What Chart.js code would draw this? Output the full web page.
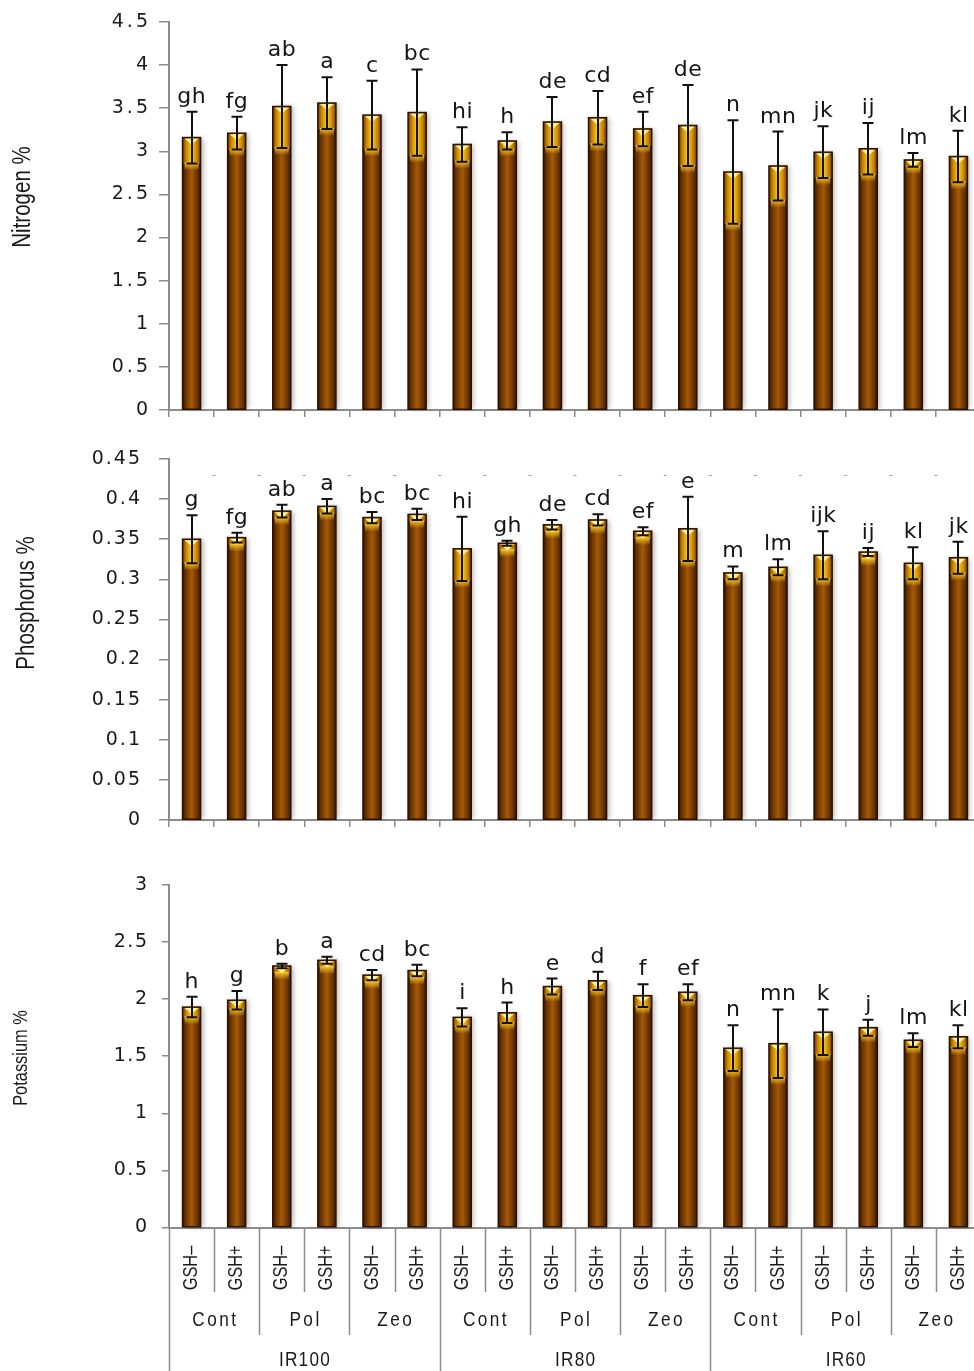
<!DOCTYPE html>
<html>
<head>
<meta charset="utf-8">
<title>Nitrogen, phosphorus and potassium content</title>
<script src="https://cdn.jsdelivr.net/npm/chart.js@4.4.1/dist/chart.umd.min.js"></script>
<style>
  html, body { margin: 0; padding: 0; background: #ffffff; width: 974px; height: 1371px; overflow: hidden; }
  canvas.panel { position: absolute; left: 0; }
</style>
</head>
<body>
<canvas id="panelN" class="panel" width="1000" height="430" style="top:0px"></canvas>
<canvas id="panelP" class="panel" width="1000" height="430" style="top:430px"></canvas>
<canvas id="panelK" class="panel" width="1000" height="511" style="top:860px"></canvas>
<script>
// ---- factor levels ----
const irrigation = ['IR100', 'IR80', 'IR60'];
const amendments = ['Cont', 'Pol', 'Zeo'];
const gshLevels = ['GSH\u2013', 'GSH+'];

// ---- nitrogen (%) ----
const nitrogen      = [3.16, 3.21, 3.52, 3.56, 3.42, 3.45, 3.08, 3.12, 3.34, 3.39, 3.26, 3.30, 2.76, 2.83, 2.99, 3.03, 2.90, 2.94];
const nitrogenErr   = [0.30, 0.19, 0.48, 0.30, 0.40, 0.50, 0.20, 0.10, 0.29, 0.31, 0.20, 0.47, 0.60, 0.40, 0.30, 0.30, 0.08, 0.30];
const nitrogenGroup = ['gh', 'fg', 'ab', 'a', 'c', 'bc', 'hi', 'h', 'de', 'cd', 'ef', 'de', 'n', 'mn', 'jk', 'ij', 'lm', 'kl'];
const nitrogenTicks = { max: 4.5, step: 0.5 };

// ---- phosphorus (%) ----
const phosphorus      = [0.350, 0.352, 0.385, 0.391, 0.377, 0.381, 0.338, 0.345, 0.368, 0.374, 0.360, 0.363, 0.308, 0.315, 0.330, 0.334, 0.320, 0.327];
const phosphorusErr   = [0.030, 0.006, 0.008, 0.009, 0.007, 0.007, 0.040, 0.003, 0.006, 0.007, 0.005, 0.040, 0.008, 0.010, 0.030, 0.005, 0.020, 0.020];
const phosphorusGroup = ['g', 'fg', 'ab', 'a', 'bc', 'bc', 'hi', 'gh', 'de', 'cd', 'ef', 'e', 'm', 'lm', 'ijk', 'ij', 'kl', 'jk'];
const phosphorusTicks = { max: 0.45, step: 0.05 };

// ---- potassium (%) ----
const potassium      = [1.93, 1.99, 2.29, 2.34, 2.21, 2.25, 1.84, 1.88, 2.11, 2.16, 2.03, 2.06, 1.57, 1.61, 1.71, 1.75, 1.64, 1.67];
const potassiumErr   = [0.09, 0.08, 0.02, 0.03, 0.045, 0.05, 0.08, 0.09, 0.07, 0.08, 0.10, 0.07, 0.20, 0.30, 0.20, 0.07, 0.06, 0.10];
const potassiumGroup = ['h', 'g', 'b', 'a', 'cd', 'bc', 'i', 'h', 'e', 'd', 'f', 'ef', 'n', 'mn', 'k', 'j', 'lm', 'kl'];
const potassiumTicks = { max: 3, step: 0.5 };

// one category per irrigation x amendment x GSH combination
const categoryLabels = [];
irrigation.forEach(ir => amendments.forEach(am => gshLevels.forEach(g => categoryLabels.push(ir + ' ' + am + ' ' + g))));

const SANS = "'Liberation Sans', 'DejaVu Sans', sans-serif";
const CONDENSE = 0.82;          // horizontal squeeze giving a condensed look
const AXIS_GREY = '#8c8c8c';

const BROWN = [[0, '#3a1801'], [0.18, '#6a3300'], [0.5, '#a55a07'], [0.82, '#6a3300'], [1, '#3a1801']];
const GOLD  = [[0, '#6e3a00'], [0.2, '#c98400'], [0.5, '#ffd021'], [0.8, '#c98400'], [1, '#6e3a00']];

function hGrad(ctx, l, r, stops) {
  const g = ctx.createLinearGradient(l, 0, r, 0);
  stops.forEach(s => g.addColorStop(s[0], s[1]));
  return g;
}

function boundary(xs, n, k) {
  if (k <= 0) return xs.left;
  if (k >= n) return xs.right;
  return (xs.getPixelForValue(k - 1) + xs.getPixelForValue(k)) / 2;
}

function spacedText(ctx, text, x, y, spacing) {
  ctx.letterSpacing = spacing + 'px';
  // trailing spacing is compensated so the text stays centred
  ctx.fillText(text, x + spacing / 2, y);
  ctx.letterSpacing = '0px';
}

// condensed text centred at (x, y), optionally turned to read bottom-to-top
function condensedText(ctx, text, x, y, vertical, spacing) {
  ctx.save();
  ctx.translate(x, y);
  if (vertical) ctx.rotate(-Math.PI / 2);
  ctx.scale(CONDENSE, 1);
  ctx.letterSpacing = (spacing || 0) + 'px';
  ctx.fillText(text, (spacing || 0) / 2, 0);
  ctx.restore();
}

// Bevelled bars, error whiskers, group letters, side title and grouped category axis
const panelPlugin = {
  id: 'panelDecor',
  beforeDraw(chart) {
    const o = chart.options.plugins.panelDecor;
    chart.ctx.letterSpacing = o.tickSpacing + 'px';
  },
  beforeDatasetsDraw(chart) {
    const o = chart.options.plugins.panelDecor;
    const ctx = chart.ctx;
    ctx.letterSpacing = '0px';
    if (o.dashLevel != null) {
      const xs = chart.scales.x, ys = chart.scales.y;
      const n = chart.data.labels.length;
      const yy = Math.round(ys.getPixelForValue(o.dashLevel)) + 0.5;
      ctx.save();
      ctx.strokeStyle = '#a0a0a0';
      ctx.lineWidth = 1;
      for (let k = 1; k <= n; k++) {
        const bx = boundary(xs, n, k);
        ctx.beginPath(); ctx.moveTo(bx - 1.5, yy); ctx.lineTo(bx + 1.5, yy); ctx.stroke();
      }
      ctx.restore();
    }
  },
  afterDatasetsDraw(chart) {
    const ctx = chart.ctx;
    const ys = chart.scales.y;
    const ds = chart.data.datasets[0];
    const meta = chart.getDatasetMeta(0);
    ctx.save();
    meta.data.forEach((bar, i) => {
      const p = bar.getProps(['x', 'y', 'base', 'width'], true);
      const l = p.x - p.width / 2, r = p.x + p.width / 2;
      const low = Math.max(ys.getPixelForValue(ds.data[i] - ds.errors[i]), p.y + 7);
      ctx.save();
      ctx.shadowColor = 'rgba(0,0,0,0.28)';
      ctx.shadowBlur = 5;
      ctx.shadowOffsetX = 3;
      ctx.fillStyle = hGrad(ctx, l, r, BROWN);
      ctx.fillRect(l, p.y, p.width, p.base - p.y);
      ctx.restore();
      ctx.fillStyle = hGrad(ctx, l, r, GOLD);
      ctx.fillRect(l, p.y, p.width, low - p.y);
      const glow = ctx.createLinearGradient(0, low - 1, 0, low + 7);
      glow.addColorStop(0, 'rgba(255,206,40,0.95)');
      glow.addColorStop(1, 'rgba(255,206,40,0)');
      ctx.fillStyle = glow;
      ctx.fillRect(l + 2, low - 1, p.width - 4, 8);
      ctx.beginPath();
      ctx.moveTo(l + 2, p.y + 1);
      ctx.lineTo(r - 2, p.y + 1);
      ctx.lineTo(p.x, p.y + 7);
      ctx.closePath();
      ctx.fillStyle = 'rgba(255,242,160,0.95)';
      ctx.fill();
      ctx.strokeStyle = '#2a1100';
      ctx.lineWidth = 1.5;
      ctx.strokeRect(l, p.y, p.width, p.base - p.y);
    });
    // error whiskers
    ctx.strokeStyle = '#111111';
    ctx.lineWidth = 2;
    meta.data.forEach((bar, i) => {
      const hi = ys.getPixelForValue(ds.data[i] + ds.errors[i]);
      const lo = ys.getPixelForValue(ds.data[i] - ds.errors[i]);
      const x = Math.round(bar.x);
      ctx.beginPath();
      ctx.moveTo(x, hi); ctx.lineTo(x, lo);
      ctx.moveTo(x - 5.5, hi); ctx.lineTo(x + 5.5, hi);
      ctx.moveTo(x - 5.5, lo); ctx.lineTo(x + 5.5, lo);
      ctx.stroke();
    });
    // mean separation letters
    ctx.fillStyle = '#151515';
    ctx.font = '22px "DejaVu Sans"';
    ctx.textAlign = 'center';
    ctx.textBaseline = 'alphabetic';
    meta.data.forEach((bar, i) => {
      const hi = ys.getPixelForValue(ds.data[i] + ds.errors[i]);
      spacedText(ctx, ds.letters[i], bar.x, hi - 9, 0.5);
    });
    ctx.restore();
  },
  afterDraw(chart) {
    const o = chart.options.plugins.panelDecor;
    const ctx = chart.ctx;
    ctx.save();
    ctx.fillStyle = '#1a1a1a';
    ctx.textAlign = 'center';
    ctx.textBaseline = 'middle';
    // side title
    ctx.font = o.titleSize + 'px ' + SANS;
    condensedText(ctx, o.title, o.titleX, o.titleY, true, 0);
    ctx.restore();

    if (!o.groupedAxis) return;
    const xs = chart.scales.x;
    const n = chart.data.labels.length;
    const per = gshLevels.length;
    const perIr = per * amendments.length;
    const top = xs.top;
    ctx.save();
    ctx.strokeStyle = AXIS_GREY;
    ctx.lineWidth = 1.5;
    for (let k = 0; k <= n; k++) {
      let end = o.rowEnds[0];
      if (k % perIr === 0) end = chart.height;
      else if (k % per === 0) end = o.rowEnds[1];
      const x = Math.round(boundary(xs, n, k)) + 0.5;
      ctx.beginPath(); ctx.moveTo(x, top); ctx.lineTo(x, end); ctx.stroke();
    }
    ctx.fillStyle = '#1a1a1a';
    ctx.textAlign = 'center';
    ctx.textBaseline = 'middle';
    // GSH level, turned upright
    ctx.font = '20px ' + SANS;
    for (let i = 0; i < n; i++) {
      condensedText(ctx, gshLevels[i % per], xs.getPixelForValue(i), o.rowCentres[0], true, 0);
    }
    // amendment
    ctx.font = '21px ' + SANS;
    for (let j = 0; j < n / per; j++) {
      const cx = (boundary(xs, n, j * per) + boundary(xs, n, (j + 1) * per)) / 2;
      condensedText(ctx, amendments[j % amendments.length], cx, o.rowCentres[1], false, 3);
    }
    // irrigation level
    for (let j = 0; j < irrigation.length; j++) {
      const cx = (boundary(xs, n, j * perIr) + boundary(xs, n, (j + 1) * perIr)) / 2;
      condensedText(ctx, irrigation[j], cx, o.rowCentres[2], false, 1.5);
    }
    ctx.restore();
  }
};

function makePanel(id, p) {
  return new Chart(document.getElementById(id), {
    type: 'bar',
    data: {
      labels: categoryLabels,
      datasets: [{
        data: p.values,
        errors: p.errors,
        letters: p.letters,
        backgroundColor: '#8a4a06',
        borderWidth: 0,
        categoryPercentage: 1,
        barPercentage: 0.4
      }]
    },
    options: {
      responsive: false,
      animation: false,
      events: [],
      layout: { padding: { top: p.padTop, right: 19, left: 0, bottom: 0 } },
      plugins: {
        legend: { display: false },
        tooltip: { enabled: false },
        panelDecor: p.decor
      },
      scales: {
        x: {
          offset: true,
          grid: { offset: true, drawOnChartArea: false, drawTicks: !p.decor.groupedAxis, tickLength: 7, color: AXIS_GREY, lineWidth: 1.5 },
          border: { color: AXIS_GREY, width: 2 },
          ticks: { display: !p.decor.groupedAxis, callback: () => '' },
          afterFit: s => { s.height = p.axisHeight; }
        },
        y: {
          min: 0,
          max: p.ticks.max,
          grid: { drawOnChartArea: false, tickLength: p.tickLength, color: AXIS_GREY, lineWidth: 1.5 },
          border: { color: AXIS_GREY, width: 2 },
          ticks: {
            stepSize: p.ticks.step,
            padding: p.tickPad,
            color: '#1a1a1a',
            font: { family: 'DejaVu Sans', size: 19 },
            callback: v => String(+Number(v).toFixed(3))
          },
          afterFit: s => { s.width = 169; }
        }
      }
    },
    plugins: [panelPlugin]
  });
}

makePanel('panelN', {
  values: nitrogen, errors: nitrogenErr, letters: nitrogenGroup, ticks: nitrogenTicks,
  padTop: 22, axisHeight: 20, tickLength: 10, tickPad: 8,
  decor: { title: 'Nitrogen %', titleX: 23, titleY: 197, titleSize: 25, tickSpacing: 3 }
});

makePanel('panelP', {
  values: phosphorus, errors: phosphorusErr, letters: phosphorusGroup, ticks: phosphorusTicks,
  padTop: 29, axisHeight: 40, tickLength: 10, tickPad: 17,
  decor: { title: 'Phosphorus %', titleX: 27, titleY: 173, titleSize: 25, tickSpacing: 2, dashLevel: 0.43 }
});

makePanel('panelK', {
  values: potassium, errors: potassiumErr, letters: potassiumGroup, ticks: potassiumTicks,
  padTop: 12, axisHeight: 143.5, tickLength: 7, tickPad: 13.5,
  decor: { title: 'Potassium %', titleX: 21, titleY: 198, titleSize: 20, tickSpacing: 1.5,
           groupedAxis: true, rowEnds: [432, 475], rowCentres: [408, 460, 500] }
});
</script>
</body>
</html>
